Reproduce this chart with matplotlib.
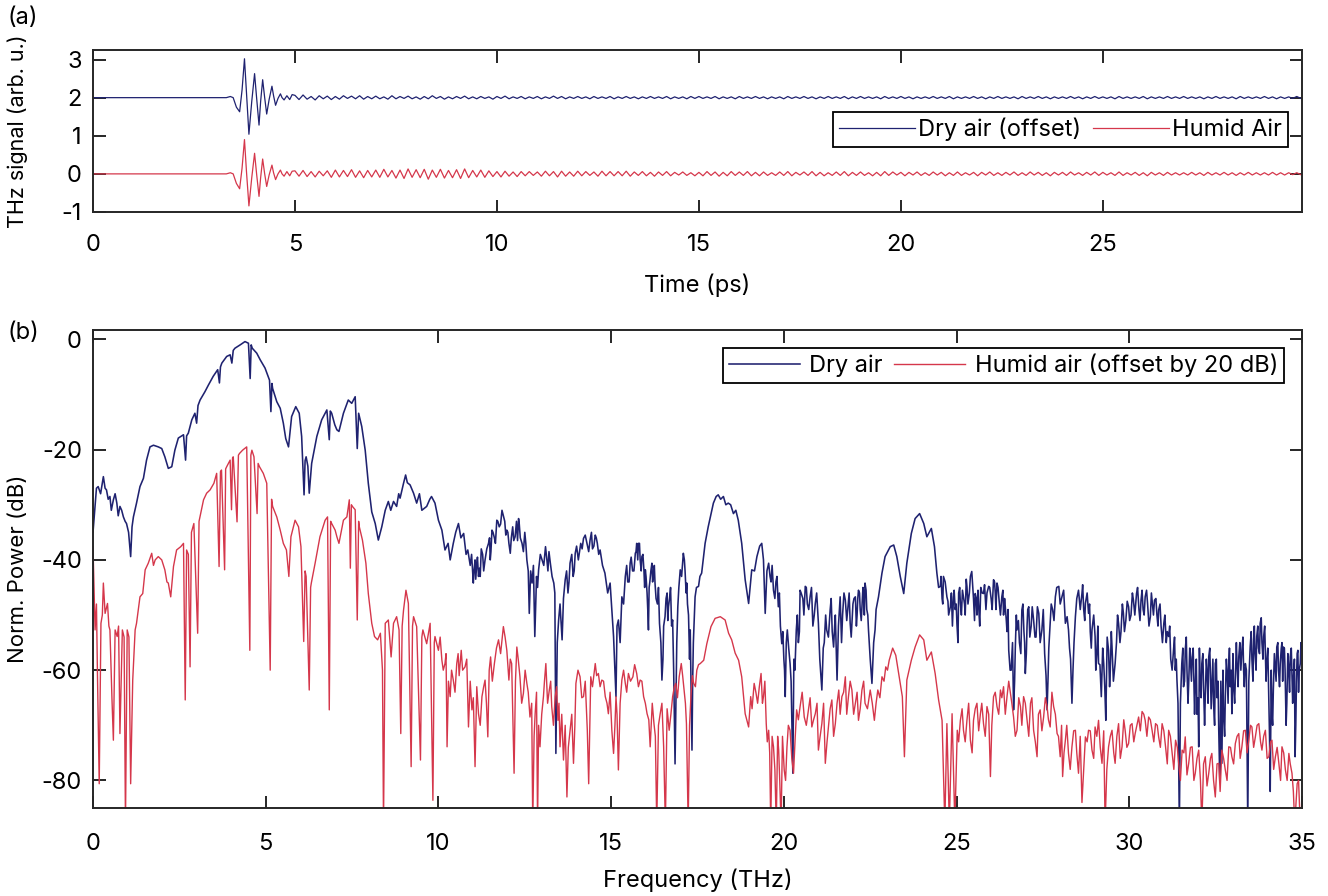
import numpy as np
import matplotlib
matplotlib.use('Agg')
import matplotlib.pyplot as plt

plt.rcParams['font.family'] = ['Inter', 'DejaVu Sans']
plt.rcParams['axes.unicode_minus'] = False

# ---- (a) time domain ----
pulse_t = [0, 3.30, 3.40, 3.47, 3.55, 3.63, 3.69, 3.75, 3.80, 3.86, 3.93, 4.00, 4.05, 4.11,
           4.15, 4.20, 4.25, 4.30, 4.36, 4.43, 4.47, 4.52, 4.58, 4.64, 4.68, 4.73, 4.80, 4.87, 4.93]
dry_pulse = [0, 0, 0.03, 0, -0.25, -0.37, 0.2, 1.02, 0.1, -0.96, -0.1, 0.63, 0.0, -0.72,
             -0.1, 0.47, 0.0, -0.43, -0.05, 0.30, 0.05, -0.20, -0.02, 0.10, 0.0, -0.06, 0.05, -0.05, 0.08]
humid_pulse = [0, 0, 0.03, 0, -0.25, -0.39, 0.15, 0.90, 0.05, -0.84, -0.1, 0.54, 0.0, -0.59,
               -0.1, 0.39, 0.0, -0.33, -0.03, 0.23, 0.03, -0.15, 0.0, 0.10, 0.0, -0.06, 0.06, -0.05, 0.07]

# ripple after the pulse, one value every 0.1 ps from 5 ps, in units of 0.01
dry_ripple = [6,-5,7,-4,3,-6,5,-3,4,-5,3,-4,5,-2,4,-3,5,-4,3,-3,
              4,-3,2,-4,5,-3,3,-2,4,-3,2,-4,3,-3,5,-2,3,-4,2,-3,
              3,-2,4,-3,2,-3,3,-2,2,-4,3,-2,4,-3,2,-2,3,-3,2,-2,
              3,-3,2,-2,4,-2,3,-3,2,-2,3,-2,2,-3,3,-2,2,-2,3,-3,
              2,-2,3,-2,2,-3,2,-2,3,-2,2,-2,3,-3,2,-2,2,-3,3,-2,
              3,-2,2,-2,3,-3,2,-2,2,-3,3,-2,2,-2,3,-2,2,-3,2,-2,
              2,-3,3,-2,2,-2,3,-2,2,-3,2,-2,3,-2,2,-2,3,-3,2,-2,
              3,-2,2,-2,2,-3,3,-2,2,-2,3,-2,2,-3,2,-2,2,-2,3,-2,
              2,-2,3,-3,2,-2,2,-2,3,-2,2,-3,2,-2,3,-2,2,-2,2,-3,
              3,-2,2,-2,3,-2,2,-3,2,-2,2,-2,3,-2,2,-3,2,-2,3,-2,
              2,-2,2,-3,3,-2,2,-2,2,-2,3,-3,2,-2,2,-2,3,-2,2,-2,
              3,-2,2,-2,2,-3,2,-2,3,-2,2,-2,2,-3,3,-2,2,-2,2,-2,
              3,-2,2,-3,2,-2,2,-2,3,-2]
humid_ripple = [8,-6,9,-7,6,-8,7,-5,8,-9,10,-8,9,-7,11,-9,8,-10,9,-8,
                10,-9,12,-8,9,-11,10,-12,13,-9,11,-10,12,-14,10,-9,12,-11,9,-10,
                11,-12,13,-10,9,-8,10,-9,8,-7,6,-8,7,-6,5,-7,6,-5,6,-4,
                5,-6,7,-5,6,-8,7,-6,5,-6,7,-5,6,-4,5,-6,7,-5,6,-5,
                6,-5,7,-6,5,-4,6,-5,4,-6,5,-4,6,-5,4,-3,5,-4,3,-5,
                4,-5,6,-4,5,-6,4,-5,6,-4,5,-4,6,-5,4,-5,5,-4,3,-4,
                5,-4,6,-5,4,-3,5,-4,6,-5,4,-5,3,-4,5,-4,6,-5,4,-4,
                5,-4,3,-5,4,-5,6,-4,5,-3,4,-5,4,-3,5,-4,3,-4,5,-3,
                4,-5,3,-4,5,-4,3,-3,4,-5,4,-3,5,-4,3,-4,4,-3,5,-4,
                3,-4,5,-3,4,-4,3,-5,4,-3,4,-4,5,-3,3,-4,4,-3,5,-4,
                4,-3,3,-4,5,-4,3,-3,4,-4,3,-5,4,-3,3,-4,4,-3,3,-3,
                3,-3,4,-3,3,-4,4,-3,3,-3,4,-3,3,-4,3,-3,4,-3,3,-3,
                3,-3,4,-3,3,-3,3,-2,3,-2]
dry_offset = 2

# ---- (b) spectra (THz, dB) ----
dry_spec = [
    (0.00,-35),(0.05,-31),(0.10,-27),(0.15,-26.7),(0.22,-28),(0.30,-24.9),(0.35,-27),(0.39,-27.3),
    (0.44,-29),(0.49,-28.5),(0.53,-31),(0.59,-29.1),(0.64,-28),(0.69,-29.7),(0.73,-32),(0.78,-30.3),
    (0.83,-31),(0.88,-32.2),(0.93,-33),(0.97,-33.4),(1.03,-35),(1.09,-39.4),(1.13,-34),(1.17,-32.2),
    (1.26,-29.7),(1.36,-26.7),(1.46,-25.2),(1.55,-21.9),(1.65,-19.5),(1.75,-19.2),(1.89,-19.5),
    (1.99,-19.8),(2.08,-21.3),(2.18,-23.4),(2.28,-23.1),(2.37,-20.1),(2.47,-17.9),(2.62,-17.3),
    (2.68,-21.9),(2.71,-17.5),(2.76,-17.0),(2.86,-14.6),(2.95,-13.4),(3.00,-15.2),(3.04,-12),
    (3.10,-11.0),(3.24,-9.5),(3.34,-8.3),(3.48,-6.7),(3.61,-5.5),(3.66,-7.9),(3.69,-5),(3.73,-4.3),
    (3.87,-3.1),(3.97,-2.8),(4.02,-4.3),(4.06,-2),(4.11,-1.6),(4.26,-1.0),(4.40,-0.4),(4.50,-0.7),
    (4.55,-7.1),(4.58,-1),(4.61,-1.6),(4.74,-2.5),(4.84,-3.7),(4.98,-5.2),(5.11,-7.4),(5.15,-13.1),
    (5.18,-8),(5.20,-8.9),(5.32,-11.3),(5.42,-12.5),(5.51,-15.2),(5.58,-18),(5.66,-19.5),(5.70,-17),
    (5.75,-14.0),(5.87,-12.2),(5.97,-13.4),(6.04,-17.6),(6.11,-28.2),(6.14,-22),(6.17,-21.3),
    (6.22,-23),(6.26,-27.9),(6.33,-22.5),(6.48,-17.6),(6.62,-14.6),(6.77,-12.8),(6.84,-18.2),
    (6.87,-13),(6.91,-13.4),(7.00,-15.5),(7.06,-16.4),(7.12,-16.7),(7.25,-13.4),(7.39,-11.0),
    (7.49,-11.6),(7.59,-10.4),(7.65,-19.8),(7.69,-13.4),(7.78,-15.8),(7.88,-20.1),(7.97,-26.1),
    (8.07,-31.3),(8.17,-33.4),(8.26,-36.4),(8.36,-34.0),(8.46,-31.0),(8.55,-29.4),(8.62,-31),
    (8.70,-29.4),(8.79,-30.3),(8.85,-28),(8.89,-28.8),(8.99,-26.1),(9.05,-24.6),(9.10,-26),
    (9.18,-26.4),(9.28,-27.9),(9.37,-29.7),(9.45,-28),(9.52,-31.0),(9.66,-30.3),(9.75,-29),
    (9.80,-28.5),(9.90,-29.7),(10.00,-32.8),(10.10,-34.6),(10.19,-38.2),(10.28,-37),(10.34,-40.0),
    (10.43,-37.0),(10.50,-35),(10.58,-33.4),(10.65,-36),(10.73,-35.2),(10.80,-39),(10.85,-38.2),
    (10.92,-41),(11.01,-44.2),(11.06,-40),(11.11,-40.6),(11.16,-43),(11.21,-43.0),(11.28,-39),
    (11.35,-40.0),(11.45,-37.0),(11.50,-40),(11.55,-34.6),(11.62,-36),(11.69,-32.8),(11.76,-34),
    (11.84,-31.0),(11.92,-33),(11.98,-34.6),(12.04,-37),(12.08,-38.8),(12.15,-34),(12.22,-35.8),
    (12.32,-32.5),(12.37,-36),(12.42,-37.0),(12.50,-35),(12.56,-40.0),(12.63,-49.7),(12.67,-42),
    (12.71,-44.2),(12.79,-53.9),(12.84,-43),(12.90,-41.8),(13.00,-40),(13.10,-37.6),(13.17,-42),
    (13.24,-40.6),(13.34,-44.2),(13.40,-75.1),(13.44,-55),(13.48,-50.9),(13.58,-54.5),(13.67,-43.6),
    (13.75,-46),(13.81,-40.6),(13.90,-43),(13.96,-38.8),(14.05,-40),(14.12,-37),(14.20,-36.1),
    (14.30,-37),(14.39,-36.4),(14.46,-38),(14.54,-35.5),(14.60,-37),(14.68,-38.2),(14.75,-41),
    (14.82,-42.4),(14.90,-46),(14.97,-44.2),(15.03,-50),(15.07,-53.9),(15.14,-64.8),(15.17,-52),
    (15.21,-50.9),(15.26,-55),(15.31,-46.7),(15.36,-48),(15.41,-43.0),(15.48,-44),(15.55,-40.6),
    (15.62,-42),(15.70,-38.8),(15.74,-37),(15.79,-37.0),(15.84,-40),(15.89,-39.4),(15.95,-42),
    (15.99,-41.8),(16.04,-46),(16.08,-52.7),(16.12,-44),(16.18,-40.6),(16.22,-43),(16.27,-44.2),
    (16.34,-48),(16.40,-51.5),(16.47,-61.8),(16.52,-52),(16.56,-50.3),(16.62,-46),(16.66,-48.5),
    (16.72,-45),(16.78,-50.9),(16.85,-77.0),(16.90,-55),(16.93,-48.5),(17.00,-41.8),(17.09,-38.8),
    (17.14,-42),(17.19,-44.2),(17.24,-50),(17.29,-52.7),(17.34,-74.5),(17.38,-55),(17.43,-46.7),
    (17.53,-44.8),(17.62,-42.4),(17.72,-37.0),(17.81,-34.0),(17.96,-29.7),(18.04,-28.5),
    (18.10,-28.2),(18.17,-29),(18.25,-28.5),(18.32,-30),(18.39,-29.7),(18.46,-30),(18.54,-31.6),
    (18.61,-31),(18.68,-32.8),(18.78,-37.0),(18.88,-43.6),(18.98,-47.9),(19.07,-41.8),(19.15,-42),
    (19.22,-39.4),(19.30,-37.5),(19.36,-37.0),(19.41,-40),(19.46,-49.7),(19.51,-42),(19.56,-40.6),
    (19.63,-44),(19.70,-45.5),(19.77,-44),(19.84,-48.5),(19.90,-52),(19.94,-55.2),(20.00,-58),
    (20.04,-64.8),(20.07,-55),(20.10,-52.7),(20.14,-56),(20.18,-58.8),(20.26,-78.7),(20.32,-60),
    (20.36,-52.7),(20.42,-55),(20.47,-45.5),(20.55,-47),(20.62,-44.8),(20.68,-48),(20.76,-46.7),
    (20.84,-52),(20.91,-47.9),(21.00,-51.5),(21.10,-63.6),(21.17,-55),(21.24,-52.7),(21.34,-49.1),
    (21.40,-53),(21.44,-55.8),(21.49,-50),(21.54,-61.8),(21.58,-52),(21.63,-46.7),(21.70,-50),
    (21.78,-47.3),(21.85,-49),(21.92,-51.5),(22.00,-48),(22.07,-46.7),(22.12,-50),(22.16,-45.5),
    (22.21,-49),(22.26,-48.5),(22.31,-46),(22.35,-44.2),(22.40,-49),(22.45,-52.7),(22.55,-62.4),
    (22.60,-55),(22.64,-52.7),(22.70,-48),(22.74,-46.7),(22.84,-42.4),(22.93,-39.4),(23.08,-37.6),
    (23.18,-37.3),(23.27,-39.4),(23.37,-43.0),(23.47,-46.1),(23.56,-40.6),(23.69,-35.2),
    (23.80,-32.5),(23.93,-31.6),(24.05,-33.4),(24.14,-35.8),(24.27,-34.3),(24.36,-37.6),
    (24.43,-42.4),(24.53,-44.8),(24.58,-47),(24.62,-43.0),(24.72,-46.7),(24.77,-50),(24.82,-48.5),
    (24.91,-46.7),(24.96,-49),(25.01,-51.5),(25.06,-46),(25.11,-47.9),(25.20,-46.7),(25.25,-50),
    (25.30,-44.8),(25.37,-46),(25.44,-42.1),(25.49,-47),(25.54,-46.1),(25.59,-50),(25.64,-48.5),
    (25.70,-45),(25.78,-46.1),(25.85,-49),(25.93,-44.8),(26.00,-47),(26.07,-43.6),(26.12,-46),
    (26.17,-44.2),(26.24,-48),(26.31,-46.7),(26.36,-50),(26.41,-48.5),(26.46,-53),(26.51,-56.4),
    (26.58,-60.0),(26.65,-67.2),(26.70,-56),(26.75,-52.7),(26.82,-55),(26.89,-49.1),(26.95,-53),
    (26.99,-60.6),(27.04,-52),(27.09,-48.5),(27.16,-52),(27.23,-50.9),(27.30,-54),(27.38,-49.7),
    (27.47,-52.7),(27.55,-57),(27.62,-67.2),(27.67,-56),(27.71,-51.5),(27.78,-49),(27.86,-46.7),
    (27.96,-44.8),(28.05,-46.7),(28.15,-51.5),(28.20,-50.3),(28.24,-52.7),(28.30,-58),(28.34,-66),
    (28.40,-55),(28.44,-50.3),(28.53,-45.5),(28.63,-46.1),(28.68,-49),(28.73,-47.9),(28.82,-49.7),
    (28.87,-53),(28.92,-52.7),(29.01,-53.9),(29.06,-57),(29.11,-58.8),(29.19,-64.8),(29.26,-58.8),
    (29.32,-69.1),(29.40,-56.4),(29.45,-60),(29.50,-55.8),(29.59,-58.8),(29.69,-51.5),(29.76,-53),
    (29.83,-49.7),(29.90,-51),(29.98,-48.5),(30.05,-50),(30.12,-47.3),(30.21,-46.1),(30.28,-49),
    (30.34,-47.3),(30.40,-49),(30.46,-46.7),(30.53,-48),(30.61,-50.3),(30.67,-48),(30.73,-47.3),
    (30.80,-50),(30.85,-49.1),(30.92,-52),(31.00,-51.5),(31.07,-55),(31.14,-53.9),(31.20,-58),
    (31.28,-56.4),(31.33,-60),(31.38,-61.8),(31.45,-88),(31.52,-58.8),(31.57,-63),(31.62,-56.4),
    (31.67,-60),(31.72,-62.4),(31.77,-58),(31.82,-57.6),(31.87,-62),(31.91,-63.0),(31.96,-68),
    (32.01,-73.9),(32.05,-62),(32.10,-58.8),(32.15,-63),(32.20,-64.8),(32.25,-60),(32.30,-57.6),
    (32.35,-61),(32.39,-63.6),(32.44,-66),(32.49,-58.8),(32.54,-65),(32.59,-70.9),(32.68,-76.9),
    (32.73,-68),(32.78,-64.8),(32.83,-60),(32.88,-58.8),(32.92,-63),(32.97,-67.9),(33.02,-63),
    (33.07,-61.8),(33.12,-59),(33.17,-57.6),(33.26,-56.4),(33.31,-60),(33.36,-58.8),(33.43,-88),
    (33.50,-55.8),(33.55,-58),(33.60,-54.5),(33.64,-57),(33.69,-53.9),(33.74,-56),(33.79,-51.5),
    (33.84,-55),(33.89,-53.9),(33.94,-57),(33.98,-58.8),(34.04,-66),(34.08,-82),(34.13,-68),
    (34.17,-63.6),(34.22,-59),(34.27,-55.8),(34.32,-60),(34.37,-58.8),(34.42,-55),(34.46,-55.8),
    (34.51,-60),(34.56,-66.1),(34.61,-59),(34.66,-57.6),(34.71,-61),(34.75,-61.8),(34.80,-75.7),
    (34.84,-62),(34.88,-56.4),(34.92,-60),(34.95,-58.8),(35.00,-56),
]

# finer jitter read in the noisy stretches of the dry trace
dry_spec_fine = [
    (10.96,-39),(11.03,-42),(11.08,-43.5),(11.13,-39.5),(11.19,-41.5),(11.24,-38),(11.31,-42),
    (11.40,-38),(11.48,-36),(11.52,-38.5),(11.58,-35),(11.65,-37),(11.72,-33),(11.80,-33.5),
    (11.88,-32),(11.95,-35.5),(12.01,-35),(12.11,-36),(12.18,-36.5),(12.26,-33),(12.29,-36.5),
    (12.34,-33.5),(12.46,-38.5),(12.53,-37),(12.60,-42),(12.75,-41),(12.87,-45),(12.95,-39),
    (13.05,-41),(13.14,-40),(13.20,-38.5),(13.29,-43),(13.37,-46),(13.52,-48),(13.62,-47),
    (13.71,-42),(13.78,-44),(13.86,-39),(13.93,-42),(14.00,-37.5),(14.16,-38),(14.25,-35.5),
    (14.35,-38.5),(14.43,-35),(14.50,-37.5),(14.57,-36),(14.64,-39),
    (15.45,-41),(15.52,-44),(15.58,-39.5),(15.66,-42),(15.72,-38.5),(15.77,-40),(15.82,-37),
    (15.87,-42),(15.92,-39),(15.97,-45),(16.01,-43),(16.06,-49),(16.10,-45),(16.15,-42),
    (16.20,-44),(16.25,-41),(16.30,-47),(16.37,-45),(16.44,-55),(16.50,-58),(16.59,-47),
    (16.64,-51),(16.69,-47),(16.75,-52),(16.81,-60),(16.88,-64),(16.96,-45),(17.04,-43),
    (17.12,-40),(17.17,-46),(17.21,-48),(17.27,-58),(17.31,-62),(17.36,-62),(17.41,-50),
    (17.47,-45),(17.57,-43),
    (19.60,-43),(19.66,-41),(19.74,-47),(19.80,-43),(19.87,-46),(19.97,-53),(20.02,-60),
    (20.21,-62),(20.29,-58),(20.39,-50),(20.45,-53),(20.50,-46),(20.58,-50),(20.65,-45),
    (20.72,-49),(20.80,-45),(20.88,-50),(20.95,-46),(21.04,-58),(21.14,-56),(21.21,-50),
    (21.29,-54),(21.37,-47),(21.47,-52),(21.61,-49),(21.67,-55),(21.74,-46),(21.82,-51),
    (21.89,-46),(21.95,-54),(22.03,-47),(22.10,-52),(22.14,-47),(22.19,-46),(22.24,-51),
    (22.29,-45),(22.33,-50),(22.38,-45.5),(22.43,-50),(22.50,-58),(22.58,-58),(22.67,-49),
    (24.48,-45),(24.55,-43),(24.60,-48),(24.67,-44),(24.75,-47.5),(24.85,-46),(24.88,-52),
    (24.93,-45.5),(24.99,-48),(25.04,-55),(25.09,-45),(25.14,-50),(25.17,-45.5),(25.23,-48),
    (25.28,-43.5),(25.33,-48),(25.40,-43),(25.47,-45),(25.52,-51),(25.57,-47),(25.62,-45.5),
    (25.67,-52),(25.74,-46),(25.81,-44.5),(25.88,-46),(25.96,-45),(26.03,-49),(26.10,-44),
    (26.14,-49),(26.20,-45),(26.27,-50),(26.34,-45.5),(26.39,-47),(26.44,-51),(26.49,-49),
    (26.55,-60),(26.62,-55),(26.68,-62),(26.73,-50),(26.79,-51),(26.86,-57),(26.92,-48),
    (26.97,-55),(27.02,-57),(27.06,-49),(27.12,-54),(27.19,-48.5),(27.27,-54),(27.34,-48.5),
    (27.42,-55),(27.51,-49),(27.59,-61),(27.65,-61),(27.74,-48),(27.82,-51),(27.90,-45),
    (28.00,-48),(28.10,-45.5),(28.27,-56),(28.37,-60),(28.48,-47),(28.58,-49),(28.65,-44.5),
    (28.71,-51),(28.78,-46),(28.85,-48),(28.90,-56),(28.97,-50),(29.03,-60),(29.09,-52),
    (29.15,-59),(29.23,-56),(29.29,-63),(29.36,-54),(29.43,-63),(29.48,-53),(29.54,-62),
    (29.63,-55),(29.66,-50),(29.73,-55),(29.80,-48),(29.86,-53),(29.94,-47.5),(30.01,-51),
    (30.09,-46),(30.16,-50),(30.24,-45),(30.31,-51),(30.37,-45.5),(30.43,-50),(30.50,-45.5),
    (30.57,-52),(30.64,-46),(30.70,-50),(30.77,-47),(30.83,-52),(30.89,-48),(30.96,-55),
    (31.03,-50),(31.10,-53),(31.17,-52),(31.24,-60),(31.31,-54),(31.36,-58),(31.41,-66),
    (31.48,-66),(31.55,-56),(31.60,-62),(31.65,-54),(31.70,-66),(31.75,-56),(31.80,-62),
    (31.85,-56),(31.89,-68),(31.94,-58),(31.99,-65),(32.03,-56),(32.08,-65),(32.13,-57),
    (32.18,-70),(32.23,-58),(32.28,-66),(32.33,-56),(32.37,-67),(32.42,-58),(32.47,-70),
    (32.52,-58),(32.57,-62),(32.62,-80),(32.65,-62),(32.71,-60),(32.76,-72),(32.81,-58),
    (32.86,-66),(32.90,-56),(32.95,-60),(33.00,-57),(33.05,-66),(33.10,-55),(33.15,-63),
    (33.20,-55),(33.23,-60),(33.29,-54),(33.33,-63),(33.39,-60),(33.46,-62),(33.53,-53),
    (33.58,-62),(33.62,-52),(33.67,-60),(33.72,-52),(33.77,-57),(33.82,-50.5),(33.87,-58),
    (33.92,-52),(33.96,-62),(34.01,-56),(34.06,-72),(34.11,-60),(34.15,-70),(34.20,-57),
    (34.25,-62),(34.30,-55),(34.35,-63),(34.40,-56),(34.44,-62),(34.49,-56),(34.54,-70),
    (34.59,-57),(34.64,-64),(34.69,-56),(34.73,-66),(34.78,-58),(34.82,-70),(34.86,-57),
    (34.90,-64),(34.97,-55),
]

humid_spec = [
    (0.00,-37.6),(0.03,-45),(0.06,-52.7),(0.10,-48),(0.13,-61.2),(0.18,-80.6),(0.23,-51.5),
    (0.27,-50),(0.30,-44.2),(0.35,-49.7),(0.42,-47.9),(0.46,-52),(0.49,-52.7),(0.55,-65.4),
    (0.59,-72.7),(0.64,-52.7),(0.70,-53.9),(0.74,-52),(0.78,-71.5),(0.85,-52.7),(0.90,-54),
    (0.94,-88),(0.99,-52.7),(1.04,-54),(1.09,-80.6),(1.15,-61.8),(1.22,-52.7),(1.26,-51.5),
    (1.36,-46.7),(1.44,-46.1),(1.51,-41.8),(1.60,-40.6),(1.70,-38.8),(1.75,-41),(1.80,-40.0),
    (1.89,-39.4),(1.99,-40.0),(2.08,-41.8),(2.14,-44),(2.18,-44.2),(2.25,-46.7),(2.33,-41.2),
    (2.42,-38.2),(2.54,-37.6),(2.62,-37.0),(2.67,-65.4),(2.71,-38.2),(2.76,-39),(2.81,-59.4),
    (2.85,-35),(2.92,-33.4),(2.98,-44.2),(3.03,-53.3),(3.07,-33),(3.20,-29.1),(3.29,-27.9),
    (3.39,-27.3),(3.50,-26.1),(3.58,-24.3),(3.65,-41.2),(3.69,-24),(3.72,-23.7),(3.81,-41.8),
    (3.84,-23.5),(3.87,-23.1),(3.97,-21.9),(4.01,-30.9),(4.04,-21.5),(4.06,-21.3),(4.17,-33.1),
    (4.21,-21),(4.24,-20.7),(4.33,-20.1),(4.45,-19.5),(4.54,-56.4),(4.57,-21),(4.60,-20.1),
    (4.66,-21.3),(4.75,-31.6),(4.78,-22.5),(4.82,-23.1),(4.93,-24.3),(5.03,-26.1),(5.13,-60.0),
    (5.17,-29),(5.20,-30.3),(5.32,-32.2),(5.42,-34.6),(5.51,-37.0),(5.60,-38.2),(5.67,-43.0),
    (5.73,-35.8),(5.85,-32.8),(5.95,-34.0),(6.02,-37.6),(6.10,-54.8),(6.14,-42),(6.17,-43.0),
    (6.26,-63.6),(6.30,-45),(6.32,-44.2),(6.43,-40.6),(6.57,-35.8),(6.72,-32.8),(6.79,-32.2),
    (6.84,-67.2),(6.88,-33),(6.91,-33.4),(7.01,-34.6),(7.06,-35.8),(7.12,-37.0),(7.25,-32.8),
    (7.35,-32.2),(7.42,-29.1),(7.45,-41.5),(7.48,-30),(7.51,-30.3),(7.59,-30.9),(7.65,-50.9),
    (7.69,-33),(7.71,-34.0),(7.80,-36.4),(7.90,-40.6),(7.97,-46.1),(8.07,-51.5),(8.15,-53.9),
    (8.24,-54.5),(8.32,-53.3),(8.38,-60.0),(8.41,-88),(8.46,-51.5),(8.55,-50.9),(8.63,-57.6),
    (8.70,-51.5),(8.79,-50.3),(8.86,-52.7),(8.91,-71.5),(8.95,-52),(8.99,-49.1),(9.06,-45.5),
    (9.13,-47.9),(9.21,-77.5),(9.25,-52),(9.28,-50.3),(9.37,-52.1),(9.48,-76.3),(9.52,-54),
    (9.55,-52.7),(9.66,-55.2),(9.76,-51.5),(9.84,-83.6),(9.88,-55),(9.90,-53.9),(10.00,-56.4),
    (10.10,-58.2),(10.19,-58.8),(10.25,-73.9),(10.29,-62),(10.34,-64.8),(10.43,-61.8),
    (10.53,-58.8),(10.60,-61),(10.66,-56.4),(10.77,-59.4),(10.87,-70.3),(10.97,-67.2),
    (11.06,-77.5),(11.16,-67.9),(11.26,-64.8),(11.35,-61.8),(11.43,-72.1),(11.51,-57.6),
    (11.62,-58.8),(11.74,-54.5),(11.88,-52.1),(11.98,-56.4),(12.04,-61.8),(12.12,-58.8),
    (12.19,-78.7),(12.27,-55.8),(12.36,-61.2),(12.46,-64.2),(12.56,-62.4),(12.65,-68.5),
    (12.73,-88),(12.80,-67.9),(12.87,-88),(12.94,-73.9),(13.04,-64.8),(13.11,-58.8),(13.21,-63.6),
    (13.28,-66.6),(13.38,-64.8),(13.46,-69.1),(13.52,-73.9),(13.62,-76.3),(13.72,-83),
    (13.81,-70.9),(13.91,-76.9),(13.98,-62.4),(14.10,-61.2),(14.20,-64.8),(14.31,-70.9),
    (14.35,-80.6),(14.41,-61.2),(14.54,-58.8),(14.63,-60.6),(14.73,-61.8),(14.83,-64.8),
    (14.92,-67.9),(15.02,-70.9),(15.07,-75.1),(15.14,-64.8),(15.21,-78.1),(15.31,-61.8),
    (15.41,-62.4),(15.50,-60.6),(15.63,-61.2),(15.74,-60.6),(15.84,-61.8),(15.94,-64.8),
    (16.04,-67.9),(16.13,-73.9),(16.24,-69.7),(16.32,-88),(16.42,-67.9),(16.52,-73.9),(16.57,-88),
    (16.68,-70.9),(16.78,-64.8),(16.87,-62.4),(16.97,-61.2),(17.03,-58.8),(17.11,-63.6),
    (17.18,-69.7),(17.23,-88),(17.31,-64.8),(17.39,-62.4),(17.48,-60.0),(17.58,-58.8),
    (17.68,-58.2),(17.77,-55.2),(17.89,-52.1),(18.01,-50.6),(18.16,-50.3),(18.30,-50.9),
    (18.40,-53.3),(18.49,-54.5),(18.59,-56.9),(18.69,-58.2),(18.78,-61.2),(18.88,-67.9),
    (18.98,-70.3),(19.04,-64.8),(19.14,-62.4),(19.24,-66.0),(19.34,-60.6),(19.41,-64.8),
    (19.49,-69.7),(19.56,-70.9),(19.62,-88),(19.70,-73.9),(19.78,-88),(19.85,-74.5),(19.92,-88),
    (20.01,-78.1),(20.09,-73.9),(20.18,-70.9),(20.28,-78.7),(20.37,-67.2),(20.47,-66.6),
    (20.59,-68.5),(20.71,-67.2),(20.81,-70.3),(20.91,-67.9),(21.00,-74.5),(21.10,-69.7),
    (21.20,-76.9),(21.29,-70.3),(21.39,-65.4),(21.49,-69.7),(21.59,-63.6),(21.68,-64.8),
    (21.78,-61.2),(21.87,-64.8),(21.97,-63.6),(22.07,-66.0),(22.16,-69.1),(22.26,-63.6),
    (22.35,-66.0),(22.50,-63.6),(22.62,-69.1),(22.72,-63.6),(22.84,-61.2),(22.95,-59.4),
    (23.05,-58.2),(23.15,-56.0),(23.24,-57.3),(23.34,-61.2),(23.43,-64.8),(23.49,-75.7),
    (23.56,-61.8),(23.69,-58.2),(23.80,-55.8),(23.93,-53.6),(24.05,-54.5),(24.14,-58.2),
    (24.27,-56.7),(24.38,-60.6),(24.48,-65.4),(24.58,-69.1),(24.66,-88),(24.72,-69.7),(24.79,-88),
    (24.87,-67.9),(24.95,-88),(25.02,-70.9),(25.11,-69.1),(25.20,-70.9),(25.30,-69.1),(25.40,-72.7),
    (25.49,-69.1),(25.59,-66.0),(25.69,-67.9),(25.78,-69.7),(25.88,-66.6),(25.98,-79.3),
    (26.07,-64.8),(26.17,-66.6),(26.27,-63.6),(26.36,-63.0),(26.46,-64.8),(26.56,-64.2),
    (26.65,-68.5),(26.75,-70.9),(26.85,-66.6),(26.94,-64.8),(27.04,-69.1),(27.14,-66.0),
    (27.23,-70.9),(27.33,-75.7),(27.42,-67.2),(27.52,-68.5),(27.62,-66.6),(27.71,-70.3),
    (27.81,-66.6),(27.91,-71.5),(28.00,-75.7),(28.07,-79.3),(28.15,-72.7),(28.24,-75.1),
    (28.34,-73.9),(28.44,-70.9),(28.53,-78.7),(28.63,-84),(28.73,-72.1),(28.82,-70.9),
    (28.92,-74.5),(29.01,-70.3),(29.11,-69.1),(29.21,-76.9),(29.30,-88),(29.40,-73.9),
    (29.50,-70.9),(29.59,-76.9),(29.69,-69.7),(29.79,-73.9),(29.88,-70.9),(29.98,-73.3),
    (30.08,-69.7),(30.17,-71.5),(30.27,-68.5),(30.37,-67.5),(30.46,-69.1),(30.56,-68.5),
    (30.66,-70.9),(30.76,-69.7),(30.85,-72.1),(30.95,-69.7),(31.05,-73.9),(31.14,-70.9),
    (31.24,-75.1),(31.34,-72.7),(31.43,-76.9),(31.53,-74.5),(31.62,-72.1),(31.72,-76.9),
    (31.82,-73.9),(31.91,-78.7),(32.01,-74.5),(32.10,-88),(32.20,-75.7),(32.30,-78.7),
    (32.39,-75.1),(32.49,-83),(32.59,-76.9),(32.68,-74.5),(32.78,-78.1),(32.88,-73.9),
    (32.97,-75.7),(33.07,-73.3),(33.17,-71.5),(33.26,-73.9),(33.36,-70.9),(33.46,-72.7),
    (33.55,-70.3),(33.65,-72.1),(33.75,-69.7),(33.84,-74.5),(33.94,-70.9),(34.04,-75.7),
    (34.13,-72.7),(34.23,-75.7),(34.33,-76.9),(34.42,-73.9),(34.52,-78.1),(34.62,-75.1),
    (34.71,-78.7),(34.79,-88),(34.86,-80.6),(34.95,-88),(35.00,-84),
]

humid_spec_fine = [
    (10.05,-54),(10.14,-60),(10.22,-57),(10.38,-60),(10.48,-64),(10.57,-57),(10.70,-60),
    (10.82,-58),(10.92,-62),(11.01,-65),(11.11,-63),(11.21,-70),(11.31,-63),(11.39,-66),
    (11.47,-60),(11.56,-62),(11.68,-56),(11.80,-57),(11.93,-54),(12.08,-58),(12.23,-62),
    (12.31,-58),(12.41,-66),(12.51,-60),(12.60,-64),(12.70,-66),(12.77,-72),(12.84,-64),
    (12.90,-70),(12.99,-68),(13.07,-62),(13.16,-66),(13.25,-62),(13.33,-70),(13.42,-63),
    (13.49,-66),(13.57,-68),(13.67,-70),(13.76,-74),(13.86,-68),(13.95,-70),(14.04,-60),
    (14.15,-65),(14.25,-62),(14.46,-63),(14.58,-61),(14.68,-63),(14.78,-62),(14.88,-66),
    (14.97,-64),(15.11,-70),(15.17,-68),(15.26,-66),(15.36,-60),(15.45,-64),(15.56,-62),
    (15.68,-59),(15.79,-63),(15.89,-62),(15.99,-66),(16.09,-69),(16.19,-66),(16.28,-72),
    (16.37,-70),(16.47,-66),(16.62,-67),(16.73,-68),(16.83,-63),(16.92,-65),(17.07,-61),
    (17.15,-66),(17.27,-70),(17.35,-61),(17.44,-63),(17.53,-59),
    (19.08,-67),(19.19,-64),(19.29,-63),(19.38,-66),(19.45,-62),(19.52,-73),(19.59,-75),
    (19.66,-72),(19.74,-78),(19.82,-72),(19.88,-80),(19.96,-72),(20.05,-80),(20.13,-70),
    (20.23,-76),(20.33,-72),(20.42,-69),(20.53,-64),(20.65,-70),(20.76,-65),(20.86,-69),
    (20.96,-66),(21.05,-72),(21.15,-66),(21.25,-73),(21.34,-67),(21.44,-72),(21.54,-66),
    (21.63,-68),(21.73,-64),(21.82,-68),(21.92,-62),(22.02,-68),(22.12,-64),(22.21,-67),
    (22.31,-62),(22.42,-67),(22.56,-66),(22.67,-66),(22.78,-65),(22.90,-62),(23.00,-60),
    (25.06,-73),(25.16,-67),(25.25,-73),(25.35,-66),(25.45,-75),(25.54,-67),(25.64,-71),
    (25.73,-66),(25.83,-72),(25.93,-68),(26.02,-70),(26.12,-64),(26.22,-68),(26.31,-65),
    (26.41,-68),(26.51,-62),(26.60,-66),(26.70,-72),(26.80,-65),(26.89,-70),(26.99,-66),
    (27.09,-72),(27.18,-65),(27.28,-73),(27.37,-68),(27.47,-71),(27.57,-65),(27.66,-69),
    (27.76,-64),(27.86,-68),(27.95,-72),(28.04,-70),(28.11,-75),(28.19,-70),(28.29,-78),
    (28.39,-71),(28.48,-75),(28.58,-72),(28.68,-78),(28.78,-73),(28.87,-71),(28.97,-76),
    (29.06,-72),(29.16,-74),(29.26,-71),(29.35,-78),(29.45,-72),(29.55,-75),(29.64,-72),
    (29.74,-76),(29.84,-69),(29.93,-74),(30.03,-70),(30.13,-73),(30.22,-70),(30.32,-71),
    (30.42,-68),(30.51,-72),(30.61,-69),(30.71,-73),(30.81,-70),(30.90,-74),(31.00,-71),
    (31.10,-77),(31.19,-72),(31.29,-78),(31.39,-74),(31.48,-80),(31.58,-75),(31.67,-79),
    (31.77,-74),(31.87,-80),(31.96,-76),(32.06,-80),(32.15,-77),(32.25,-81),(32.35,-76),
    (32.44,-80),(32.54,-77),(32.63,-82),(32.73,-76),(32.83,-80),(32.93,-74),(33.02,-77),
    (33.12,-72),(33.21,-76),(33.31,-71),(33.41,-75),(33.51,-70),(33.60,-74),(33.70,-70),
    (33.80,-73),(33.89,-72),(33.99,-76),(34.09,-73),(34.18,-78),(34.28,-74),(34.38,-80),
    (34.47,-75),(34.57,-80),(34.66,-77),(34.75,-82),(34.90,-80),
]

dry_color = '#1f2270'
humid_color = '#d5374b'
axis_color = '#262626'
fs = 17
fs_ylab = 15.5

# build the time traces
ripple_t = 5.0 + 0.1 * np.arange(len(dry_ripple))
t_dry = np.concatenate([pulse_t, ripple_t])
y_dry = np.concatenate([dry_pulse, np.array(dry_ripple) * 0.01]) + dry_offset
ripple_th = 5.0 + 0.1 * np.arange(len(humid_ripple))
t_hum = np.concatenate([pulse_t, ripple_th])
y_hum = np.concatenate([humid_pulse, np.array(humid_ripple) * 0.01])

def merged(coarse, fine):
    arr = np.array(coarse + fine)
    return arr[np.argsort(arr[:, 0], kind='stable')]

dry_arr = merged(dry_spec, dry_spec_fine)
humid_arr = merged(humid_spec, humid_spec_fine)

fig = plt.figure(figsize=(13.28, 8.96), dpi=100)
ax1 = fig.add_axes([93/1328, 1-212/896, 1209/1328, 162/896])
ax2 = fig.add_axes([93/1328, 1-808/896, 1209/1328, 478/896])

ax1.plot(t_dry, y_dry, color=dry_color, lw=0.9, label='Dry air (offset)')
ax1.plot(t_hum, y_hum, color=humid_color, lw=0.9, label='Humid Air')
ax1.set_xlim(0, 29.93)
ax1.set_ylim(-1, 3.25)
ax1.set_xticks([0, 5, 10, 15, 20, 25])
ax1.set_yticks([-1, 0, 1, 2, 3])
ax1.set_xlabel('Time (ps)', fontsize=fs, va='center')
ax1.xaxis.set_label_coords(0.5, (212-285)/162)
ax1.set_ylabel('THz signal (arb. u.)', fontsize=fs_ylab, va='center')
ax1.yaxis.set_label_coords((18-93)/1209, 0.5)
leg1 = ax1.legend(loc='upper right', bbox_to_anchor=((1288-93)/1209, (212-112)/162), ncol=2,
                  fontsize=fs, frameon=True, fancybox=False, framealpha=1, edgecolor='k',
                  borderpad=0.25, handlelength=3.2, handletextpad=0.15, columnspacing=0.5,
                  borderaxespad=0)
leg1.get_frame().set_linewidth(1.3)

ax2.plot(dry_arr[:, 0], dry_arr[:, 1], color=dry_color, lw=1.15, label='Dry air')
ax2.plot(humid_arr[:, 0], humid_arr[:, 1], color=humid_color, lw=1.0,
         label='Humid air (offset by 20 dB)')
ax2.set_xlim(0, 35)
ax2.set_ylim(-85, 1.7)
ax2.set_xticks(np.arange(0, 36, 5))
ax2.set_yticks([-80, -60, -40, -20, 0])
ax2.set_xlabel('Frequency (THz)', fontsize=fs, va='center')
ax2.xaxis.set_label_coords(0.5, (808-880)/478)
ax2.set_ylabel('Norm. Power (dB)', fontsize=fs_ylab + 0.5, va='center')
ax2.yaxis.set_label_coords((18-93)/1209, 0.5)
leg2 = ax2.legend(loc='upper right', bbox_to_anchor=((1284-93)/1209, (808-348)/478), ncol=2,
                  fontsize=fs, frameon=True, fancybox=False, framealpha=1, edgecolor='k',
                  borderpad=0.25, handlelength=3.0, handletextpad=0.4, columnspacing=0.5,
                  borderaxespad=0)
leg2.get_frame().set_linewidth(1.3)

for ax, xpad in ((ax1, 16), (ax2, 18)):
    for s in ax.spines.values():
        s.set_color(axis_color)
        s.set_linewidth(1.4)
    ax.tick_params(axis='both', which='both', direction='in', length=9, width=1.4,
                   color=axis_color, top=True, right=True, labelsize=fs)
    ax.tick_params(axis='x', pad=xpad)
    ax.tick_params(axis='y', pad=8)

fig.text(8/1328, 1-18/896, '(a)', fontsize=fs, va='center', ha='left')
fig.text(8/1328, 1-333/896, '(b)', fontsize=fs, va='center', ha='left')

fig.savefig('out.png', dpi=100)
